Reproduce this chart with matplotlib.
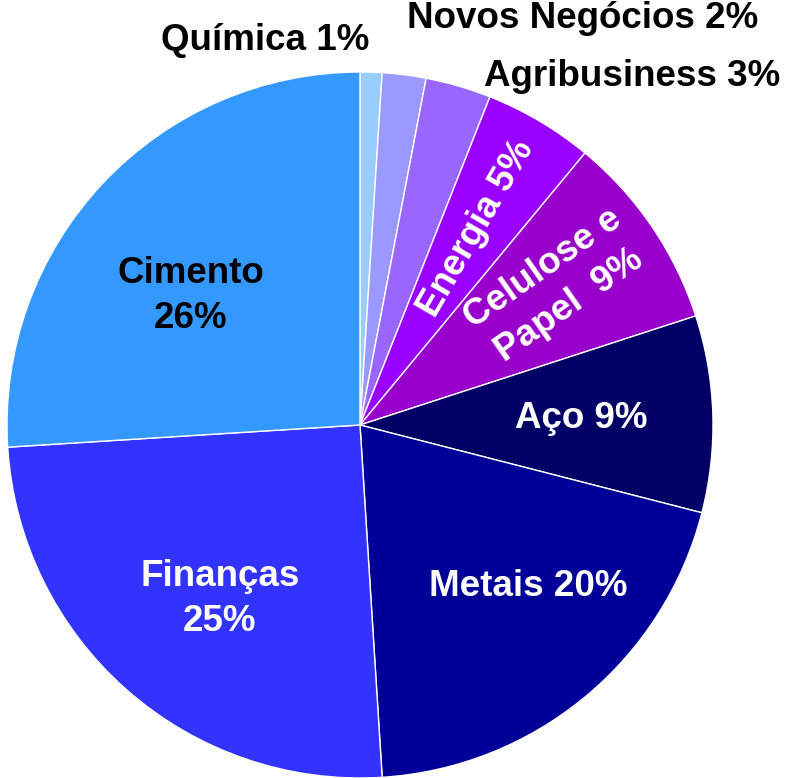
import matplotlib
matplotlib.use("Agg")
import matplotlib.pyplot as plt

# slice data, clockwise from 12 o'clock
sectors = ["Química", "Novos Negócios", "Agribusiness", "Energia", "Celulose e Papel",
           "Aço", "Metais", "Finanças", "Cimento"]
shares = [1, 2, 3, 5, 9, 9, 20, 25, 26]
colors = ["#99CCFF", "#9999FF", "#9966FF", "#9900FF", "#9900CC",
          "#000066", "#000099", "#3333FF", "#3399FF"]

# label texts as drawn on the chart
labels = ["Química 1%", "Novos Negócios 2%", "Agribusiness 3%", "Energia 5%",
          "Celulose e\nPapel  9%", "Aço 9%", "Metais 20%", "Finanças\n25%", "Cimento\n26%"]
label_colors = ["black", "black", "black", "white", "white", "white", "white", "white", "black"]

W, H = 792, 778
fig = plt.figure(figsize=(W / 100, H / 100), dpi=100)
ax = fig.add_axes([0, 0, 1, 1])

cx, cy, R = 360, H - 425, 353
ax.pie(shares, colors=colors, startangle=90, counterclock=False,
       radius=R, center=(cx, cy), frame=True,
       wedgeprops=dict(edgecolor="white", linewidth=1.0))
ax.set_xlim(0, W)
ax.set_ylim(0, H)
ax.set_aspect("equal")
ax.axis("off")

# label placement in pixel coords (x, y from top), rotation
pos = [(265, 40, 0), (583, 18, 0), (632, 76, 0), (476, 229, 60),
       (556, 287, 35), (581, 418, 0), (528, 586, 0), (220, 599, 0), (191, 296, 0)]
for txt, c, (px, py, rot) in zip(labels, label_colors, pos):
    ax.text(px, H - py, txt, color=c, ha="center", va="center", rotation=rot,
            rotation_mode="anchor", fontsize=26.5, fontweight="bold",
            family="Liberation Sans", linespacing=1.4)

fig.savefig("out.png", dpi=100)
